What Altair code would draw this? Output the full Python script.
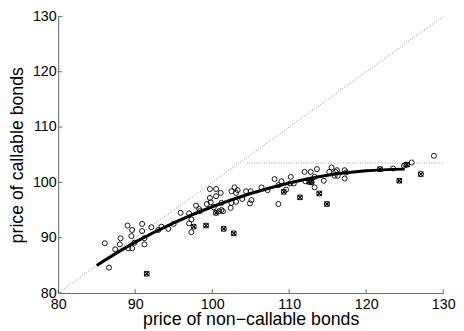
import altair as alt
import pandas as pd

# Callable bonds (circles)
circ_x = [86.05, 86.6, 87.4, 88.0, 88.1, 89.0, 89.1, 89.5, 89.6, 89.6, 89.9, 90.9, 90.9, 91.2, 91.2,
          92.1, 93.0, 93.4, 94.3, 95.0, 95.9, 97.0, 97.0, 97.3, 97.3, 97.9, 98.3, 98.4, 99.3, 99.7,
          99.7, 99.8, 100.5, 100.5, 100.2, 101.1, 101.2, 101.2, 101.4, 100.9, 102.4, 102.5, 102.5,
          102.9, 103.1, 103.1, 103.3, 103.9, 104.4, 104.9, 105.1, 105.0, 106.4, 107.2, 108.1, 108.6,
          108.6, 109.0, 109.6, 110.1, 110.2, 110.6, 112.0, 112.1, 112.8, 112.9, 113.3, 113.3, 113.6,
          114.5, 115.2, 115.5, 115.9, 116.0, 116.2, 116.3, 117.2, 117.2, 117.4, 123.5, 124.9, 125.1,
          125.9, 128.8]
circ_y = [89.0, 84.6, 87.9, 88.8, 89.9, 92.2, 88.1, 90.3, 91.4, 88.1, 89.1, 92.5, 91.2, 88.8, 89.9,
          91.9, 91.4, 92.0, 91.6, 92.5, 94.5, 94.4, 92.6, 93.3, 91.0, 95.8, 95.2, 94.8, 96.1, 98.8,
          97.2, 96.4, 97.5, 98.8, 95.5, 98.1, 96.3, 95.0, 94.8, 94.8, 95.4, 96.3, 98.4,
          99.1, 98.1, 96.5, 98.6, 97.0, 98.4, 96.2, 96.8, 98.4, 99.1, 98.6, 100.6, 96.1,
          99.5, 100.2, 98.7, 99.8, 101.0, 99.8, 101.9, 100.2, 101.9, 100.0, 101.0, 99.1, 102.4,
          100.3, 101.9, 102.7, 101.2, 101.9, 102.2, 101.2, 100.7, 102.2, 101.8, 102.5, 103.0, 103.2,
          103.6, 104.8]

# Marked bonds (circle with cross)
mark_x = [91.5, 97.6, 99.2, 100.5, 101.5, 102.8, 109.3, 111.4, 112.6, 112.9, 113.9, 114.9,
          121.8, 124.3, 125.3, 127.1]
mark_y = [83.5, 92.0, 92.2, 94.5, 91.6, 90.8, 98.3, 97.3, 100.1, 100.1, 98.0, 96.1,
          102.4, 100.3, 103.2, 101.5]

# Fitted curve
fit_x = [85, 90, 95, 100, 105, 110, 115, 120, 125]
fit_y = [85.0, 89.2, 92.7, 95.6, 98.0, 99.9, 101.3, 102.1, 102.4]

# Reference lines
diag_x = [80, 130]
diag_y = [80, 130]
cap_x = [104.5, 130]
cap_y = [103.5, 103.5]

ticks = [80, 90, 100, 110, 120, 130]

W, H = 391, 281
xs = alt.Scale(domain=[80, 130], nice=False, zero=False)
ys = alt.Scale(domain=[80, 130], nice=False, zero=False)

axis_common = dict(values=ticks, grid=False, ticks=False, domainColor="#666666",
                   domainWidth=1, labelColor="black", labelFont="Liberation Sans",
                   labelFontSize=14.5, titleFont="Liberation Sans", titleFontSize=18,
                   titleFontWeight="normal", titleColor="black", labelFlush=False,
                   labelOverlap=False, format="d", titleBaseline="alphabetic")

xaxis = alt.Axis(title="price of non\u2212callable bonds", labelPadding=5, titleY=32,
                 **axis_common)
yaxis = alt.Axis(title="price of callable bonds", labelPadding=2, titleX=-36,
                 **axis_common)

df_c = pd.DataFrame({"x": circ_x, "y": circ_y})
df_m = pd.DataFrame({"x": mark_x, "y": mark_y})
df_f = pd.DataFrame({"x": fit_x, "y": fit_y})
df_d = pd.DataFrame({"x": diag_x, "y": diag_y})
df_cap = pd.DataFrame({"x": cap_x, "y": cap_y})
df_t = pd.DataFrame({"t": ticks})

diag = alt.Chart(df_d).mark_line(color="#999999", strokeWidth=1, strokeDash=[1, 1.5]).encode(
    x=alt.X("x:Q", scale=xs, axis=xaxis), y=alt.Y("y:Q", scale=ys, axis=yaxis))
cap = alt.Chart(df_cap).mark_line(color="#999999", strokeWidth=1, strokeDash=[1, 1.5]).encode(
    x="x:Q", y="y:Q")
fit = alt.Chart(df_f).mark_line(color="black", strokeWidth=3, interpolate="monotone").encode(
    x="x:Q", y="y:Q")
circles = alt.Chart(df_c).mark_point(shape="circle", filled=False, color="black",
                                     strokeWidth=0.9, size=26, opacity=1).encode(x="x:Q", y="y:Q")
mcirc = alt.Chart(df_m).mark_point(shape="circle", filled=False, color="black",
                                   strokeWidth=1, size=26, opacity=1).encode(x="x:Q", y="y:Q")
mcross = alt.Chart(df_m).mark_point(shape="M-1,-1L1,1M1,-1L-1,1", filled=False, color="black",
                                    strokeWidth=1.2, size=26, opacity=1).encode(x="x:Q", y="y:Q")

xt = alt.Chart(df_t).mark_rule(color="#666666", strokeWidth=1).encode(
    x="t:Q", y=alt.value(H), y2=alt.value(H - 4))
yt = alt.Chart(df_t).mark_rule(color="#666666", strokeWidth=1).encode(
    y="t:Q", x=alt.value(0), x2=alt.value(4))

chart = alt.layer(diag, cap, fit, circles, mcirc, mcross, xt, yt).properties(
    width=W, height=H,
    autosize=alt.AutoSizeParams(type="none"),
    padding={"left": 51, "top": 6, "right": 13, "bottom": 36},
).configure_view(strokeWidth=0)

chart.save("out.html", embed_options={"renderer": "svg", "actions": False})
